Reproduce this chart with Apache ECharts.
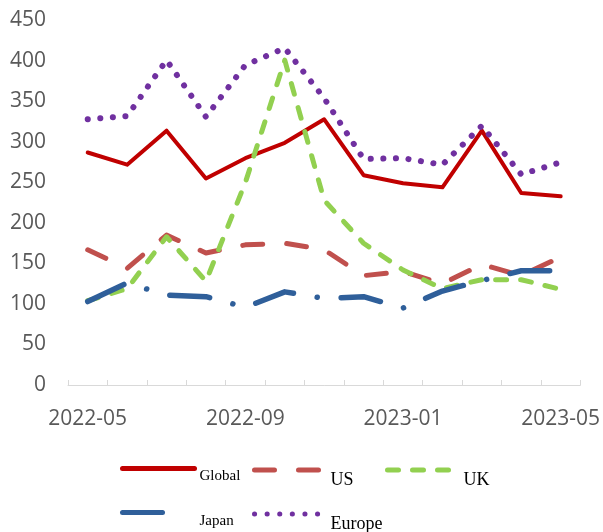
<!DOCTYPE html>
<html>
<head>
<meta charset="utf-8">
<script src="https://cdn.jsdelivr.net/npm/echarts@6/dist/echarts.min.js"></script>
<style>html,body{margin:0;padding:0;background:#fff;}#chart{width:603px;height:532px;}</style>
</head>
<body>
<div id="chart"></div>
<script>
var categories = ['2022-05','2022-06','2022-07','2022-08','2022-09','2022-10','2022-11','2022-12','2023-01','2023-02','2023-03','2023-04','2023-05'];
var globalVals = [287, 272, 314, 255, 280, 299, 328, 259, 249, 244, 314, 237, 233];
var usVals     = [167, 144, 185, 163, 173, 175, 167, 135, 140, 125, 149, 135, 158];
var ukVals     = [104, 119, 183, 128, 250, 401, 228, 175, 142, 119, 130, 130, 118];
var japanVals  = [103, 126, 111, 109, 96, 115, 107, 109, 95, 116, 129, 141, 141];
var europeVals = [328, 332, 401, 331, 395, 416, 354, 279, 280, 272, 320, 260, 275];
var yTicks = {min: 0, max: 450, interval: 50};

var chart = echarts.init(document.getElementById('chart'));
function leg(name, left, top, w, fs, shift, padLeft) {
  return {
    data: [name], left: left, top: top, itemWidth: w, itemHeight: 14,
    padding: 0, selectedMode: false, orient: 'horizontal',
    itemStyle: {opacity: 0},
    lineStyle: {width: 5},
    formatter: '{s| }\n{a|{name}}',
    textStyle: {fontFamily: 'Liberation Serif', fontSize: fs, color: '#000',
      rich: {
        s: {fontSize: 2, lineHeight: shift, padding: [0, 0, 0, padLeft]},
        a: {fontFamily: 'Liberation Serif', fontSize: fs, lineHeight: fs, color: '#000', padding: [0, 0, 0, padLeft]}
      }}
  };
}
function ser(name, data, color, width, type) {
  return {
    name: name, type: 'line', data: data, symbol: 'none', smooth: false,
    lineStyle: {color: color, width: width, type: type, cap: 'round', join: 'round'},
    itemStyle: {color: color}
  };
}
chart.setOption({
  animation: false,
  backgroundColor: '#fff',
  grid: {left: 68, right: 21, top: 20.5, bottom: 147, containLabel: false},
  legend: [
    leg('Global', 120, 460, 72, 15, 16, 0),
    leg('US', 252, 460, 71, 18, 20, 0),
    leg('UK', 385, 460, 71, 18, 20, 0),
    leg('Japan', 120, 504, 51, 15, 18, 21),
    leg('Europe', 252, 504, 71, 18, 20, 0)
  ],
  xAxis: {
    type: 'category', data: categories, boundaryGap: true,
    axisLine: {lineStyle: {color: '#D9D9D9', width: 1}},
    axisTick: {show: true, inside: true, length: 5, interval: 0, lineStyle: {color: '#D9D9D9'}},
    axisLabel: {interval: 3, margin: 24, fontFamily: 'Open Sans', fontSize: 21, color: '#595959'}
  },
  yAxis: {
    type: 'value', min: yTicks.min, max: yTicks.max, interval: yTicks.interval,
    axisLine: {show: false}, axisTick: {show: false}, splitLine: {show: false},
    axisLabel: {margin: 22, fontFamily: 'Open Sans', fontSize: 21, color: '#595959'}
  },
  series: [
    ser('Global', globalVals, '#C00000', 4, 'solid'),
    ser('US', usVals, '#C0504D', 5, [20, 24]),
    ser('UK', ukVals, '#92D050', 5, [11, 14]),
    ser('Japan', japanVals, '#2F5F9A', 5.5, [40, 24, 0.1, 24]),
    ser('Europe', europeVals, '#7030A0', 6, [0.1, 12.5])
  ]
});
</script>
</body>
</html>
